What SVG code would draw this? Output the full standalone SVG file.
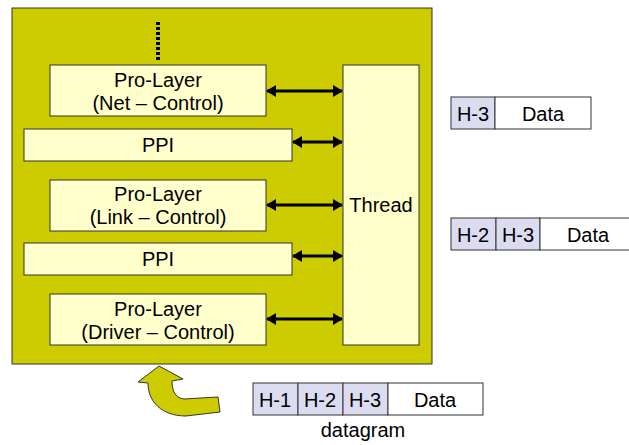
<svg xmlns="http://www.w3.org/2000/svg" width="629" height="445" viewBox="0 0 629 445">
<style>
text{font-family:"Liberation Sans",Arial,sans-serif;font-size:20px;fill:#000;text-anchor:middle}
.lay{fill:#FFFFCC;stroke:#333;stroke-width:1}
.hdr{fill:#DCDCF0;stroke:#333;stroke-width:1}
.dat{fill:#FFFFFF;stroke:#333;stroke-width:1}
.conn{stroke:#000;stroke-width:3;fill:none;marker-start:url(#ah);marker-end:url(#ah)}
</style>
<defs>
<marker id="ah" viewBox="0 0 10 12" refX="9" refY="6" markerWidth="10" markerHeight="12" markerUnits="userSpaceOnUse" orient="auto-start-reverse">
<path d="M0,0 L10,6 L0,12 Z" fill="#000"/>
</marker>
</defs>
<rect width="629" height="445" fill="#fff"/>
<g id="host">
<rect x="12" y="8" width="420" height="356" fill="#CCCC00" stroke="#333" stroke-width="1"/>
<line x1="158" y1="22" x2="158" y2="60" stroke="#000" stroke-width="4" stroke-dasharray="3,2"/>
</g>
<g id="net">
<rect class="lay" x="50" y="65" width="216" height="51"/>
<text x="158" y="87">Pro-Layer</text>
<text x="158" y="110">(Net – Control)</text>
</g>
<g id="ppi1">
<rect class="lay" x="24" y="129" width="268" height="32"/>
<text x="158" y="152">PPI</text>
</g>
<g id="link">
<rect class="lay" x="50" y="180" width="216" height="51"/>
<text x="158" y="201">Pro-Layer</text>
<text x="158" y="224">(Link – Control)</text>
</g>
<g id="ppi2">
<rect class="lay" x="24" y="243" width="268" height="32"/>
<text x="158" y="266">PPI</text>
</g>
<g id="driver">
<rect class="lay" x="50" y="294" width="216" height="51"/>
<text x="158" y="316">Pro-Layer</text>
<text x="158" y="339">(Driver – Control)</text>
</g>
<g id="thread">
<rect class="lay" x="343" y="65" width="76" height="280"/>
<text x="381" y="212">Thread</text>
</g>
<g id="connectors">
<line class="conn" x1="267" y1="91" x2="342" y2="91"/>
<line class="conn" x1="293" y1="142" x2="342" y2="142"/>
<line class="conn" x1="267" y1="205" x2="342" y2="205"/>
<line class="conn" x1="293" y1="256" x2="342" y2="256"/>
<line class="conn" x1="267" y1="319" x2="342" y2="319"/>
<path d="M159,366 L183,379 L172,381 C172,392 176,398 184,399 L218,397 L220,412 L186,416 C162,416 148,402 148,383 L138,382 Z" fill="#CCCC00" stroke="#333" stroke-width="1"/>
</g>
<g id="pkt3">
<rect class="hdr" x="451" y="97" width="44" height="32"/>
<rect class="dat" x="495" y="97" width="96" height="32"/>
<text x="473" y="121">H-3</text>
<text x="543" y="121">Data</text>
</g>
<g id="pkt2">
<rect class="hdr" x="451" y="218" width="45" height="32"/>
<rect class="hdr" x="496" y="218" width="44" height="32"/>
<rect class="dat" x="540" y="218" width="96" height="32"/>
<text x="473" y="242">H-2</text>
<text x="518" y="242">H-3</text>
<text x="588" y="242">Data</text>
</g>
<g id="datagram">
<rect class="hdr" x="253" y="383" width="45" height="32"/>
<rect class="hdr" x="298" y="383" width="45" height="32"/>
<rect class="hdr" x="343" y="383" width="45" height="32"/>
<rect class="dat" x="388" y="383" width="95" height="32"/>
<text x="275" y="407">H-1</text>
<text x="320" y="407">H-2</text>
<text x="365" y="407">H-3</text>
<text x="435" y="407">Data</text>
<text x="363" y="437">datagram</text>
</g>
</svg>
